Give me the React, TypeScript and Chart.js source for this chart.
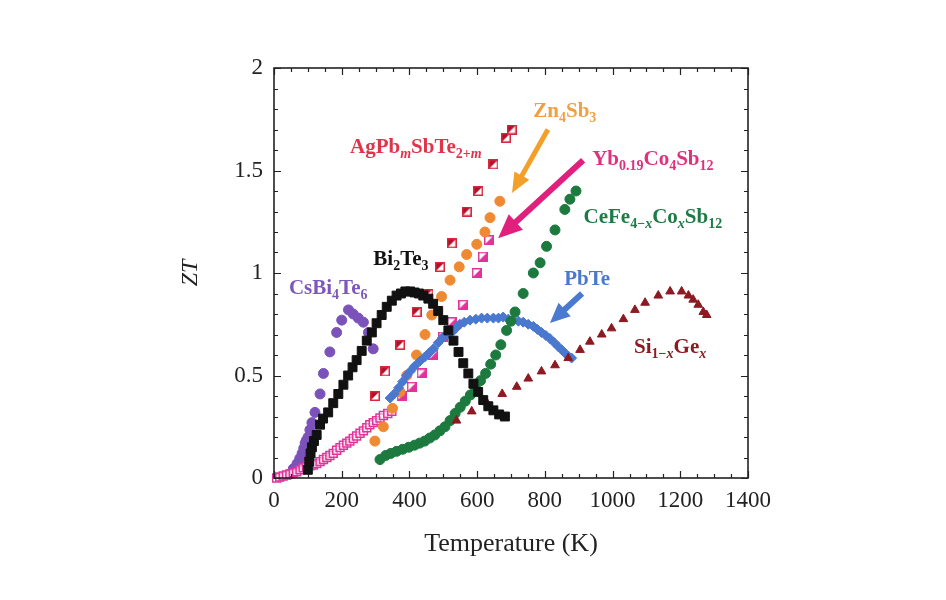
import React, { useEffect, useRef } from "react";
import { Chart, registerables } from "chart.js";

Chart.register(...registerables);

// ---------- data ----------
const xTickValues = [0, 200, 400, 600, 800, 1000, 1200, 1400];
const yTickValues = [0, 0.5, 1, 1.5, 2];

const bi2te3T = [100, 104, 108, 112, 118, 126, 136, 145, 160, 175, 190, 205, 219, 232, 244, 259, 274, 289, 303, 318, 333, 348, 362, 375, 388, 402, 415, 428, 441, 456, 470, 485, 500, 515, 530, 545, 559, 574, 589, 603, 618, 633, 648, 665, 682];
const bi2te3ZT = [0.04, 0.08, 0.12, 0.15, 0.18, 0.21, 0.26, 0.29, 0.32, 0.365, 0.41, 0.455, 0.5, 0.54, 0.575, 0.62, 0.67, 0.71, 0.755, 0.795, 0.835, 0.865, 0.89, 0.9, 0.91, 0.91, 0.905, 0.9, 0.89, 0.875, 0.85, 0.815, 0.77, 0.72, 0.67, 0.615, 0.56, 0.51, 0.46, 0.42, 0.38, 0.35, 0.33, 0.31, 0.3];

const csbi4te6T = [47, 57, 68, 76, 83, 88, 92, 96, 101, 106, 112, 121, 136, 146, 165, 185, 200, 220, 234, 249, 264, 279, 293];
const csbi4te6ZT = [0.02, 0.045, 0.07, 0.095, 0.12, 0.145, 0.17, 0.185, 0.2, 0.235, 0.27, 0.32, 0.41, 0.51, 0.615, 0.71, 0.77, 0.82, 0.8, 0.78, 0.76, 0.71, 0.63];

const agpbT = [298, 328, 372, 421, 456, 490, 525, 569, 603, 648, 685, 702];
const agpbZT = [0.4, 0.52, 0.65, 0.81, 0.9, 1.03, 1.145, 1.3, 1.4, 1.53, 1.66, 1.7];

const ybLowT = [8, 17, 27, 37, 47, 57, 67, 77, 86, 96, 106, 116, 126, 136, 146, 156, 165, 175, 185, 195, 205, 215, 224, 234, 244, 254, 264, 274, 283, 293, 303, 313, 323, 336, 348];
const ybLowZT = [0, 0.005, 0.01, 0.015, 0.02, 0.025, 0.03, 0.04, 0.05, 0.055, 0.06, 0.063, 0.07, 0.08, 0.09, 0.1, 0.11, 0.12, 0.135, 0.148, 0.16, 0.17, 0.18, 0.193, 0.205, 0.218, 0.23, 0.245, 0.26, 0.27, 0.28, 0.293, 0.305, 0.315, 0.325];
const ybT = [377, 407, 436, 471, 500, 525, 559, 599, 617, 635];
const ybZT = [0.4, 0.445, 0.51, 0.6, 0.69, 0.76, 0.845, 1.0, 1.08, 1.16];

const zn4sb3T = [298, 323, 350, 372, 392, 421, 446, 466, 495, 520, 547, 569, 599, 623, 638, 667];
const zn4sb3ZT = [0.18, 0.25, 0.34, 0.42, 0.5, 0.6, 0.7, 0.795, 0.885, 0.965, 1.03, 1.09, 1.14, 1.2, 1.27, 1.35];

const cefeT = [313, 330, 345, 362, 380, 398, 415, 430, 445, 460, 475, 490, 505, 520, 535, 550, 565, 580, 595, 610, 625, 640, 655, 670, 687, 700, 712, 736, 766, 786, 805, 830, 859, 874, 892];
const cefeZT = [0.09, 0.11, 0.12, 0.13, 0.14, 0.15, 0.16, 0.17, 0.18, 0.195, 0.21, 0.23, 0.25, 0.28, 0.315, 0.345, 0.375, 0.405, 0.44, 0.475, 0.51, 0.555, 0.6, 0.65, 0.72, 0.765, 0.81, 0.9, 1.0, 1.05, 1.13, 1.21, 1.31, 1.36, 1.4];

const pbteT = [343, 355, 368, 380, 392, 402, 415, 431, 445, 458, 471, 485, 498, 511, 525, 537, 549, 562, 579, 596, 613, 630, 648, 663, 677, 692, 707, 722, 736, 751, 766, 778, 790, 803, 815, 828, 840, 850, 859, 869, 879];
const pbteZT = [0.39, 0.41, 0.44, 0.47, 0.5, 0.52, 0.545, 0.57, 0.59, 0.61, 0.63, 0.66, 0.685, 0.7, 0.71, 0.73, 0.75, 0.76, 0.77, 0.775, 0.78, 0.78, 0.78, 0.78, 0.785, 0.775, 0.77, 0.765, 0.76, 0.75, 0.74, 0.725, 0.71, 0.695, 0.68, 0.66, 0.64, 0.625, 0.61, 0.595, 0.585];

const sigeT = [539, 584, 628, 674, 717, 751, 790, 830, 869, 904, 933, 968, 997, 1032, 1066, 1096, 1135, 1170, 1204, 1224, 1238, 1253, 1268, 1278];
const sigeZT = [0.28, 0.325, 0.37, 0.41, 0.445, 0.485, 0.52, 0.55, 0.585, 0.625, 0.665, 0.7, 0.73, 0.775, 0.82, 0.855, 0.89, 0.91, 0.91, 0.89, 0.87, 0.845, 0.81, 0.795];

// ---------- styles ----------
const SERIF = "'Liberation Serif', 'DejaVu Serif', serif";
const C_BLACK = "#111111";
const C_PURPLE = "#7b52b9";
const C_RED = "#d8283e";
const C_DARKRED_FILL = "#b0102a";
const C_PINK = "#e2339a";
const C_ORANGE = "#ef8a32";
const C_GREEN = "#1c7a3e";
const C_BLUE = "#4a78cf";
const C_SIGE = "#8c1a22";

type Seg = [string, "n" | "s" | "si" | "i"];
interface Label { segs: Seg[]; T: number; ZT: number; color: string }
interface Arrow { fromT: number; fromZT: number; toT: number; toZT: number; color: string; shaft: number; headL: number; headW: number }

const labels: Label[] = [
  { segs: [["AgPb", "n"], ["m", "si"], ["SbTe", "n"], ["2+", "s"], ["m", "si"]], T: 419, ZT: 1.585, color: "#e0344c" },
  { segs: [["Zn", "n"], ["4", "s"], ["Sb", "n"], ["3", "s"]], T: 859, ZT: 1.76, color: "#f0a040" },
  { segs: [["Yb", "n"], ["0.19", "s"], ["Co", "n"], ["4", "s"], ["Sb", "n"], ["12", "s"]], T: 1119, ZT: 1.527, color: "#e0307e" },
  { segs: [["CeFe", "n"], ["4\u2212", "s"], ["x", "si"], ["Co", "n"], ["x", "si"], ["Sb", "n"], ["12", "s"]], T: 1119, ZT: 1.244, color: "#1f7a45" },
  { segs: [["Bi", "n"], ["2", "s"], ["Te", "n"], ["3", "s"]], T: 375, ZT: 1.04, color: "#111111" },
  { segs: [["CsBi", "n"], ["4", "s"], ["Te", "n"], ["6", "s"]], T: 160, ZT: 0.9, color: "#7d57bb" },
  { segs: [["PbTe", "n"]], T: 925, ZT: 0.94, color: "#4a78cc" },
  { segs: [["Si", "n"], ["1\u2212", "s"], ["x", "si"], ["Ge", "n"], ["x", "si"]], T: 1170, ZT: 0.61, color: "#8a1c24" },
];

const arrows: Arrow[] = [
  { fromT: 809, fromZT: 1.7, toT: 703, toZT: 1.39, color: "#f4a028", shaft: 5, headL: 20, headW: 17 },
  { fromT: 913, fromZT: 1.55, toT: 662, toZT: 1.17, color: "#e0207c", shaft: 6, headL: 24, headW: 21 },
  { fromT: 910, fromZT: 0.9, toT: 815, toZT: 0.756, color: "#4a7ad0", shaft: 6, headL: 20, headW: 18 },
];

function halfSquare(size: number, stroke: string, fill: string, corner: "tl" | "br"): HTMLCanvasElement {
  const c = document.createElement("canvas");
  c.width = size;
  c.height = size;
  const g = c.getContext("2d")!;
  g.fillStyle = "#ffffff";
  g.fillRect(0, 0, size, size);
  g.fillStyle = fill;
  g.beginPath();
  if (corner === "tl") {
    g.moveTo(0, 0); g.lineTo(size, 0); g.lineTo(0, size);
  } else {
    g.moveTo(size, 0); g.lineTo(size, size); g.lineTo(0, size);
  }
  g.closePath();
  g.fill();
  g.strokeStyle = stroke;
  g.lineWidth = 1.5;
  g.strokeRect(0.75, 0.75, size - 1.5, size - 1.5);
  return c;
}

function pts(xs: number[], ys: number[]) {
  return xs.map((x, i) => ({ x, y: ys[i] }));
}

const LABEL_SIZE = 21;

function segFont(kind: string) {
  const sub = kind === "s" || kind === "si";
  const it = kind === "i" || kind === "si";
  const size = sub ? Math.round(LABEL_SIZE * 0.68) : LABEL_SIZE;
  return `${it ? "italic " : ""}bold ${size}px ${SERIF}`;
}

const framePlugin = {
  id: "frameTicks",
  afterDraw(chart: any) {
    const { ctx, chartArea: a, scales } = chart;
    const xs = scales.x, ys = scales.y;
    ctx.save();
    ctx.strokeStyle = "#222";
    ctx.lineWidth = 1.6;
    ctx.strokeRect(a.left, a.top, a.right - a.left, a.bottom - a.top);
    ctx.lineWidth = 1.2;
    ctx.beginPath();
    for (let v = 0; v <= 1400; v += 50) {
      const px = Math.round(xs.getPixelForValue(v)) + 0.5;
      const len = v % 200 === 0 ? 7 : 4;
      ctx.moveTo(px, a.bottom); ctx.lineTo(px, a.bottom - len);
      ctx.moveTo(px, a.top); ctx.lineTo(px, a.top + len);
    }
    for (let i = 0; i <= 20; i++) {
      const v = i / 10;
      const py = Math.round(ys.getPixelForValue(v)) + 0.5;
      const len = i % 5 === 0 ? 7 : 4;
      ctx.moveTo(a.left, py); ctx.lineTo(a.left + len, py);
      ctx.moveTo(a.right, py); ctx.lineTo(a.right - len, py);
    }
    ctx.stroke();
    ctx.restore();
  },
};

const annotationPlugin = {
  id: "annots",
  afterDatasetsDraw(chart: any) {
    const { ctx, scales } = chart;
    const xs = scales.x, ys = scales.y;
    ctx.save();
    for (const ar of arrows) {
      const x1 = xs.getPixelForValue(ar.fromT), y1 = ys.getPixelForValue(ar.fromZT);
      const x2 = xs.getPixelForValue(ar.toT), y2 = ys.getPixelForValue(ar.toZT);
      const ang = Math.atan2(y2 - y1, x2 - x1);
      const len = Math.hypot(x2 - x1, y2 - y1);
      ctx.save();
      ctx.translate(x1, y1);
      ctx.rotate(ang);
      ctx.fillStyle = ar.color;
      ctx.beginPath();
      ctx.moveTo(0, -ar.shaft / 2);
      ctx.lineTo(len - ar.headL, -ar.shaft / 2);
      ctx.lineTo(len - ar.headL, -ar.headW / 2);
      ctx.lineTo(len, 0);
      ctx.lineTo(len - ar.headL, ar.headW / 2);
      ctx.lineTo(len - ar.headL, ar.shaft / 2);
      ctx.lineTo(0, ar.shaft / 2);
      ctx.closePath();
      ctx.fill();
      ctx.restore();
    }
    ctx.textBaseline = "alphabetic";
    ctx.textAlign = "left";
    for (const lb of labels) {
      let total = 0;
      for (const [t, k] of lb.segs) {
        ctx.font = segFont(k);
        total += ctx.measureText(t).width;
      }
      let x = xs.getPixelForValue(lb.T) - total / 2;
      const y = ys.getPixelForValue(lb.ZT);
      ctx.fillStyle = lb.color;
      for (const [t, k] of lb.segs) {
        ctx.font = segFont(k);
        const dy = k === "s" || k === "si" ? 5 : 0;
        ctx.fillText(t, x, y + dy);
        x += ctx.measureText(t).width;
      }
    }
    ctx.restore();
  },
};

export default function App() {
  const ref = useRef<HTMLCanvasElement | null>(null);

  useEffect(() => {
    if (!ref.current) return;
    const redSq = halfSquare(10, C_RED, C_DARKRED_FILL, "tl");
    const pinkSq = halfSquare(10, C_PINK, C_PINK, "br");
    const base = { showLine: false, clip: false as any, borderWidth: 1 };
    const chart = new Chart(ref.current, {
      type: "scatter",
      data: {
        datasets: [
          { ...base, label: "Bi2Te3", data: pts(bi2te3T, bi2te3ZT), pointStyle: "rect", pointRadius: 6.3, backgroundColor: C_BLACK, borderColor: C_BLACK },
          { ...base, label: "Si1-xGex", data: pts(sigeT, sigeZT), pointStyle: "triangle", pointRadius: 5, backgroundColor: C_SIGE, borderColor: C_SIGE },
          { ...base, label: "CeFe4-xCoxSb12", data: pts(cefeT, cefeZT), pointStyle: "circle", pointRadius: 5, backgroundColor: C_GREEN, borderColor: C_GREEN },
          { ...base, label: "PbTe", data: pts(pbteT, pbteZT), pointStyle: "rectRot", pointRadius: 5, backgroundColor: C_BLUE, borderColor: C_BLUE },
          { ...base, label: "Zn4Sb3", data: pts(zn4sb3T, zn4sb3ZT), pointStyle: "circle", pointRadius: 5, backgroundColor: C_ORANGE, borderColor: C_ORANGE },
          { ...base, label: "AgPbmSbTe2+m", data: pts(agpbT, agpbZT), pointStyle: redSq as any, pointRadius: 5 },
          { ...base, label: "Yb0.19Co4Sb12 (low T)", data: pts(ybLowT, ybLowZT), pointStyle: "rect", pointRadius: 5.6, backgroundColor: "rgba(255,255,255,0.5)", borderColor: C_PINK, borderWidth: 1.5 },
          { ...base, label: "Yb0.19Co4Sb12", data: pts(ybT, ybZT), pointStyle: pinkSq as any, pointRadius: 5 },
          { ...base, label: "CsBi4Te6", data: pts(csbi4te6T, csbi4te6ZT), pointStyle: "circle", pointRadius: 5, backgroundColor: C_PURPLE, borderColor: C_PURPLE },
        ],
      },
      options: {
        animation: false,
        responsive: true,
        maintainAspectRatio: false,
        layout: { padding: { left: 0, top: 68, right: 198, bottom: 0 } },
        plugins: { legend: { display: false }, tooltip: { enabled: false } },
        scales: {
          x: {
            type: "linear",
            min: 0,
            max: 1400,
            afterBuildTicks: (s: any) => { s.ticks = xTickValues.map((v) => ({ value: v })); },
            afterFit: (s: any) => { s.height = 122; },
            grid: { display: false, drawTicks: false },
            border: { display: false },
            ticks: { color: "#222", padding: 9, maxRotation: 0, font: { family: SERIF, size: 23 }, callback: (v: any) => String(v) },
            title: { display: true, text: "Temperature (K)", color: "#222", font: { family: SERIF, size: 26 }, padding: { top: 0, bottom: 40 } },
          },
          y: {
            type: "linear",
            min: 0,
            max: 2,
            afterBuildTicks: (s: any) => { s.ticks = yTickValues.map((v) => ({ value: v })); },
            afterFit: (s: any) => { s.width = 274; },
            grid: { display: false, drawTicks: false },
            border: { display: false },
            ticks: { color: "#222", padding: 11, font: { family: SERIF, size: 23 }, callback: (v: any) => String(v) },
            title: { display: true, text: "ZT", color: "#222", font: { family: SERIF, size: 24, style: "italic" }, padding: { top: 176, bottom: 0 } },
          },
        },
      },
      plugins: [framePlugin, annotationPlugin],
    });
    return () => chart.destroy();
  }, []);

  return (
    <div style={{ position: "fixed", left: 0, top: 0, width: 946, height: 600, background: "#fff" }}>
      <canvas ref={ref} />
    </div>
  );
}
